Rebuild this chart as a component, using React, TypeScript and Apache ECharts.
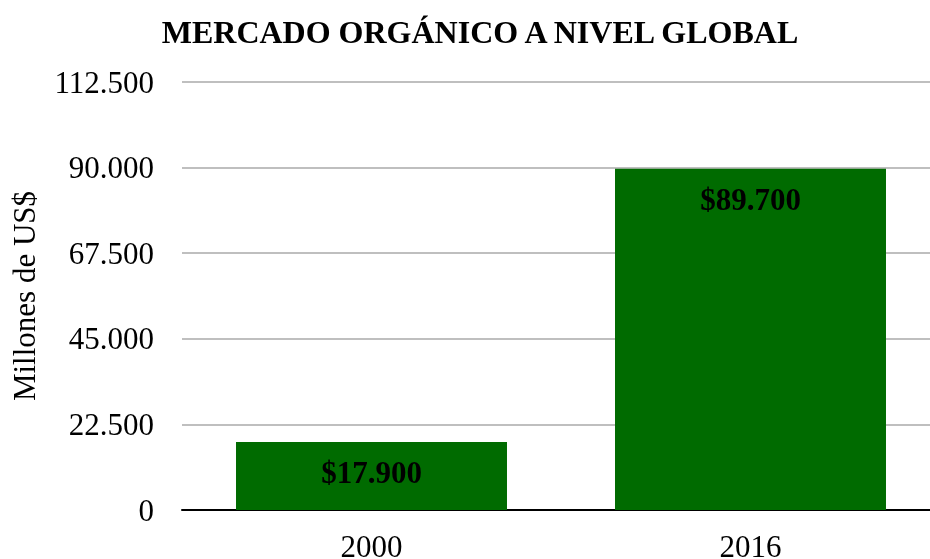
import React, { useEffect, useRef } from "react";
import * as echarts from "echarts";

const categories = ["2000", "2016"];
const values = [17900, 89700];
const yTicks = [0, 22500, 45000, 67500, 90000, 112500];

const fmt = (v: number) => {
  const s = Math.round(v).toString();
  return s.replace(/\B(?=(\d{3})+(?!\d))/g, ".");
};

const FONT = "'Liberation Serif', 'Times New Roman', serif";

export default function App() {
  const ref = useRef<HTMLDivElement>(null);
  useEffect(() => {
    if (!ref.current) return;
    const chart = echarts.init(ref.current, null, { renderer: "svg" });
    chart.setOption({
      animation: false,
      title: {
        text: "MERCADO ORGÁNICO A NIVEL GLOBAL",
        left: 475,
        textAlign: "center",
        top: 11,
        textStyle: { fontFamily: FONT, fontSize: 32, fontWeight: "bold", color: "#000" },
      },
      grid: { left: 182, top: 82, width: 758, height: 428, containLabel: false, outerBoundsMode: "none" },
      xAxis: {
        type: "category",
        data: categories,
        axisLine: { lineStyle: { color: "#000", width: 2 } },
        axisTick: { show: false },
        axisLabel: { fontFamily: FONT, fontSize: 31, color: "#000", margin: 21 },
      },
      yAxis: {
        type: "value",
        min: yTicks[0],
        max: yTicks[yTicks.length - 1],
        interval: 22500,
        name: "Millones de US$",
        nameLocation: "middle",
        nameGap: 142,
        nameTextStyle: { fontFamily: FONT, fontSize: 31, color: "#000" },
        axisLine: { show: false },
        axisTick: { show: false },
        splitLine: { lineStyle: { color: "#bfbfbf", width: 2 } },
        axisLabel: { fontFamily: FONT, fontSize: 31, color: "#000", margin: 28, formatter: (v: number) => fmt(v) },
      },
      series: [
        {
          type: "bar",
          data: values,
          barCategoryGap: "28.5%",
          itemStyle: { color: "#006b00" },
          label: {
            show: true,
            position: "insideTop",
            distance: 15,
            fontFamily: FONT,
            fontSize: 31,
            fontWeight: "bold",
            color: "#000",
            formatter: (p: any) => "$" + fmt(p.value),
          },
        },
      ],
    });
    return () => chart.dispose();
  }, []);
  return <div ref={ref} style={{ position: "fixed", left: 0, top: 0, width: 930, height: 559 }} />;
}
